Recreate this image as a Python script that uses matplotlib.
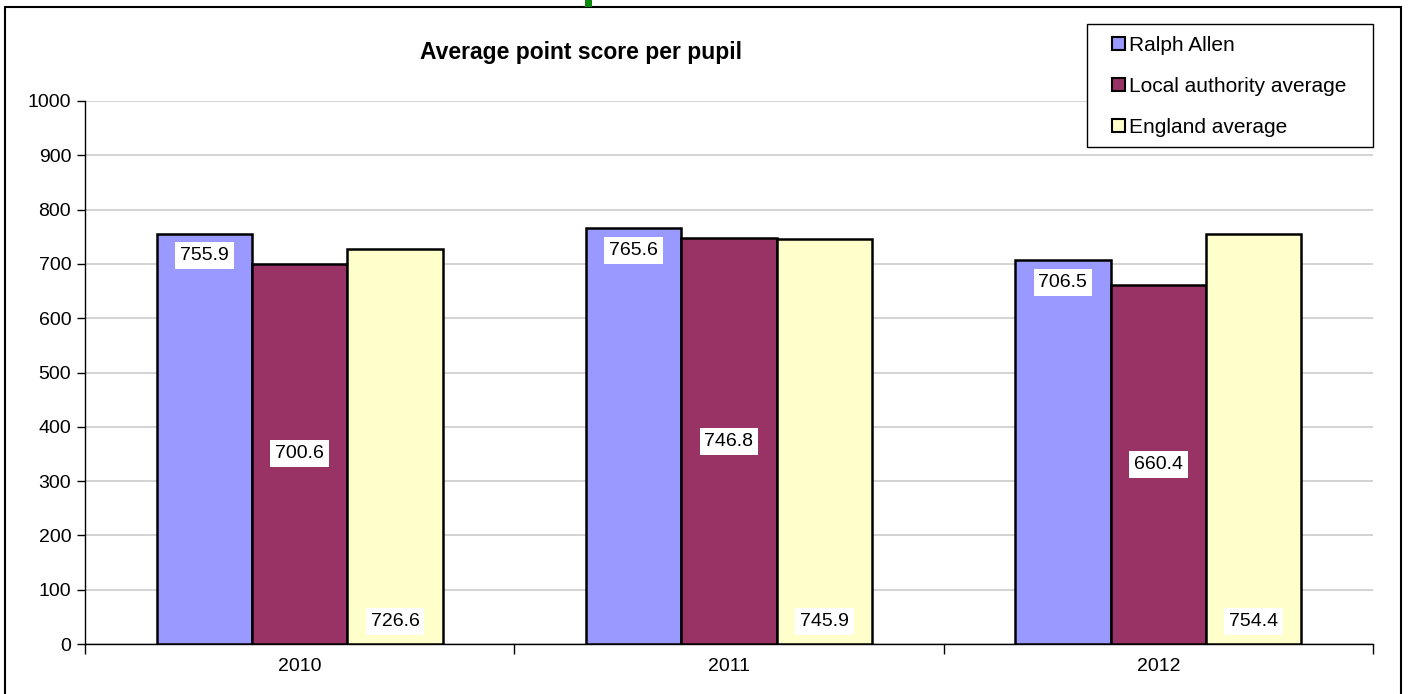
import numpy as np
import matplotlib.pyplot as plt
from matplotlib.patches import Rectangle

plt.rcParams['font.family'] = ['Liberation Sans', 'DejaVu Sans']

years = ['2010', '2011', '2012']
series = ['Ralph Allen', 'Local authority average', 'England average']
ralph_allen = [755.9, 765.6, 706.5]
local_authority = [700.6, 746.8, 660.4]
england = [726.6, 745.9, 754.4]
colors = ['#9999FF', '#993366', '#FFFFCC']

W, H = 1408, 694
fig = plt.figure(figsize=(W / 100, H / 100), dpi=100)
ax = fig.add_axes([0.0604, 0.0720, 0.9147, 0.7825])


def px_box(x0, y0, x1, y1, **kw):
    # rectangle given in pixel coords from the top-left of the figure
    return Rectangle((x0 / W, 1 - y1 / H), (x1 - x0) / W, (y1 - y0) / H,
                     transform=fig.transFigure, **kw)


# outer chart border and the clipped green mark above it
fig.patches.append(px_box(5, 7, 1401, 730, fill=False, edgecolor='black',
                          linewidth=1.5, zorder=0))
fig.patches.append(px_box(585, 0, 592, 7, facecolor='#0a8a0a', edgecolor='none'))

x = np.arange(len(years))
w = 1 / (3 + 1.5)
all_vals = [ralph_allen, local_authority, england]
for i, (vals, name, c) in enumerate(zip(all_vals, series, colors)):
    pos = x + (i - 1) * w
    bars = ax.bar(pos, vals, width=w, color=c, edgecolor='black',
                  linewidth=1.8, label=name, zorder=3)
    for b, v in zip(bars, vals):
        cx = b.get_x() + b.get_width() / 2
        if i == 0:
            xy, off = (cx, v), (0, -16)
        elif i == 1:
            xy, off = (cx, v / 2), (0, 0)
        else:
            xy, off = (cx, 0), (0, 16)
        ax.annotate(f'{v:.1f}', xy=xy, xytext=off, textcoords='offset points',
                    ha='center', va='center', fontsize=14, zorder=5,
                    bbox=dict(boxstyle='square,pad=0.25', facecolor='white',
                              edgecolor='none'))

ax.set_ylim(0, 1000)
ax.set_xlim(-0.5, len(years) - 0.5)
ax.set_yticks(range(0, 1001, 100))
ax.yaxis.grid(True, color='#cccccc', linewidth=1.2, zorder=0)
ax.set_axisbelow(True)

ax.set_xticks(x)
ax.set_xticklabels(years)
ax.set_xticks(np.arange(-0.5, len(years)), minor=True)
ax.tick_params(axis='x', which='major', length=0, pad=10, labelsize=14)
ax.tick_params(axis='x', which='minor', length=7, width=1, direction='out')
ax.tick_params(axis='y', length=6, width=1, direction='out', labelsize=14, pad=4)

for s in ['top', 'right']:
    ax.spines[s].set_visible(False)
ax.spines['left'].set_linewidth(1)
ax.spines['bottom'].set_linewidth(1)

fig.text(581 / W, 1 - 52 / H, 'Average point score per pupil',
         ha='center', va='center', fontsize=16.5, fontweight='bold')

# legend box drawn separately so the padding can match the original
fig.patches.append(px_box(1087, 24, 1373, 147, facecolor='white',
                          edgecolor='black', linewidth=1, zorder=4))
leg = fig.legend(loc='upper left', bbox_to_anchor=(1112 / W, 1 - 36 / H),
                 fontsize=15, frameon=False,
                 handlelength=0.6, handleheight=0.6, handletextpad=0.2,
                 labelspacing=1.06, borderpad=0, borderaxespad=0)
leg.set_zorder(5)
for h in leg.legend_handles:
    h.set_linewidth(1.5)

fig.savefig('out.png', dpi=100)
